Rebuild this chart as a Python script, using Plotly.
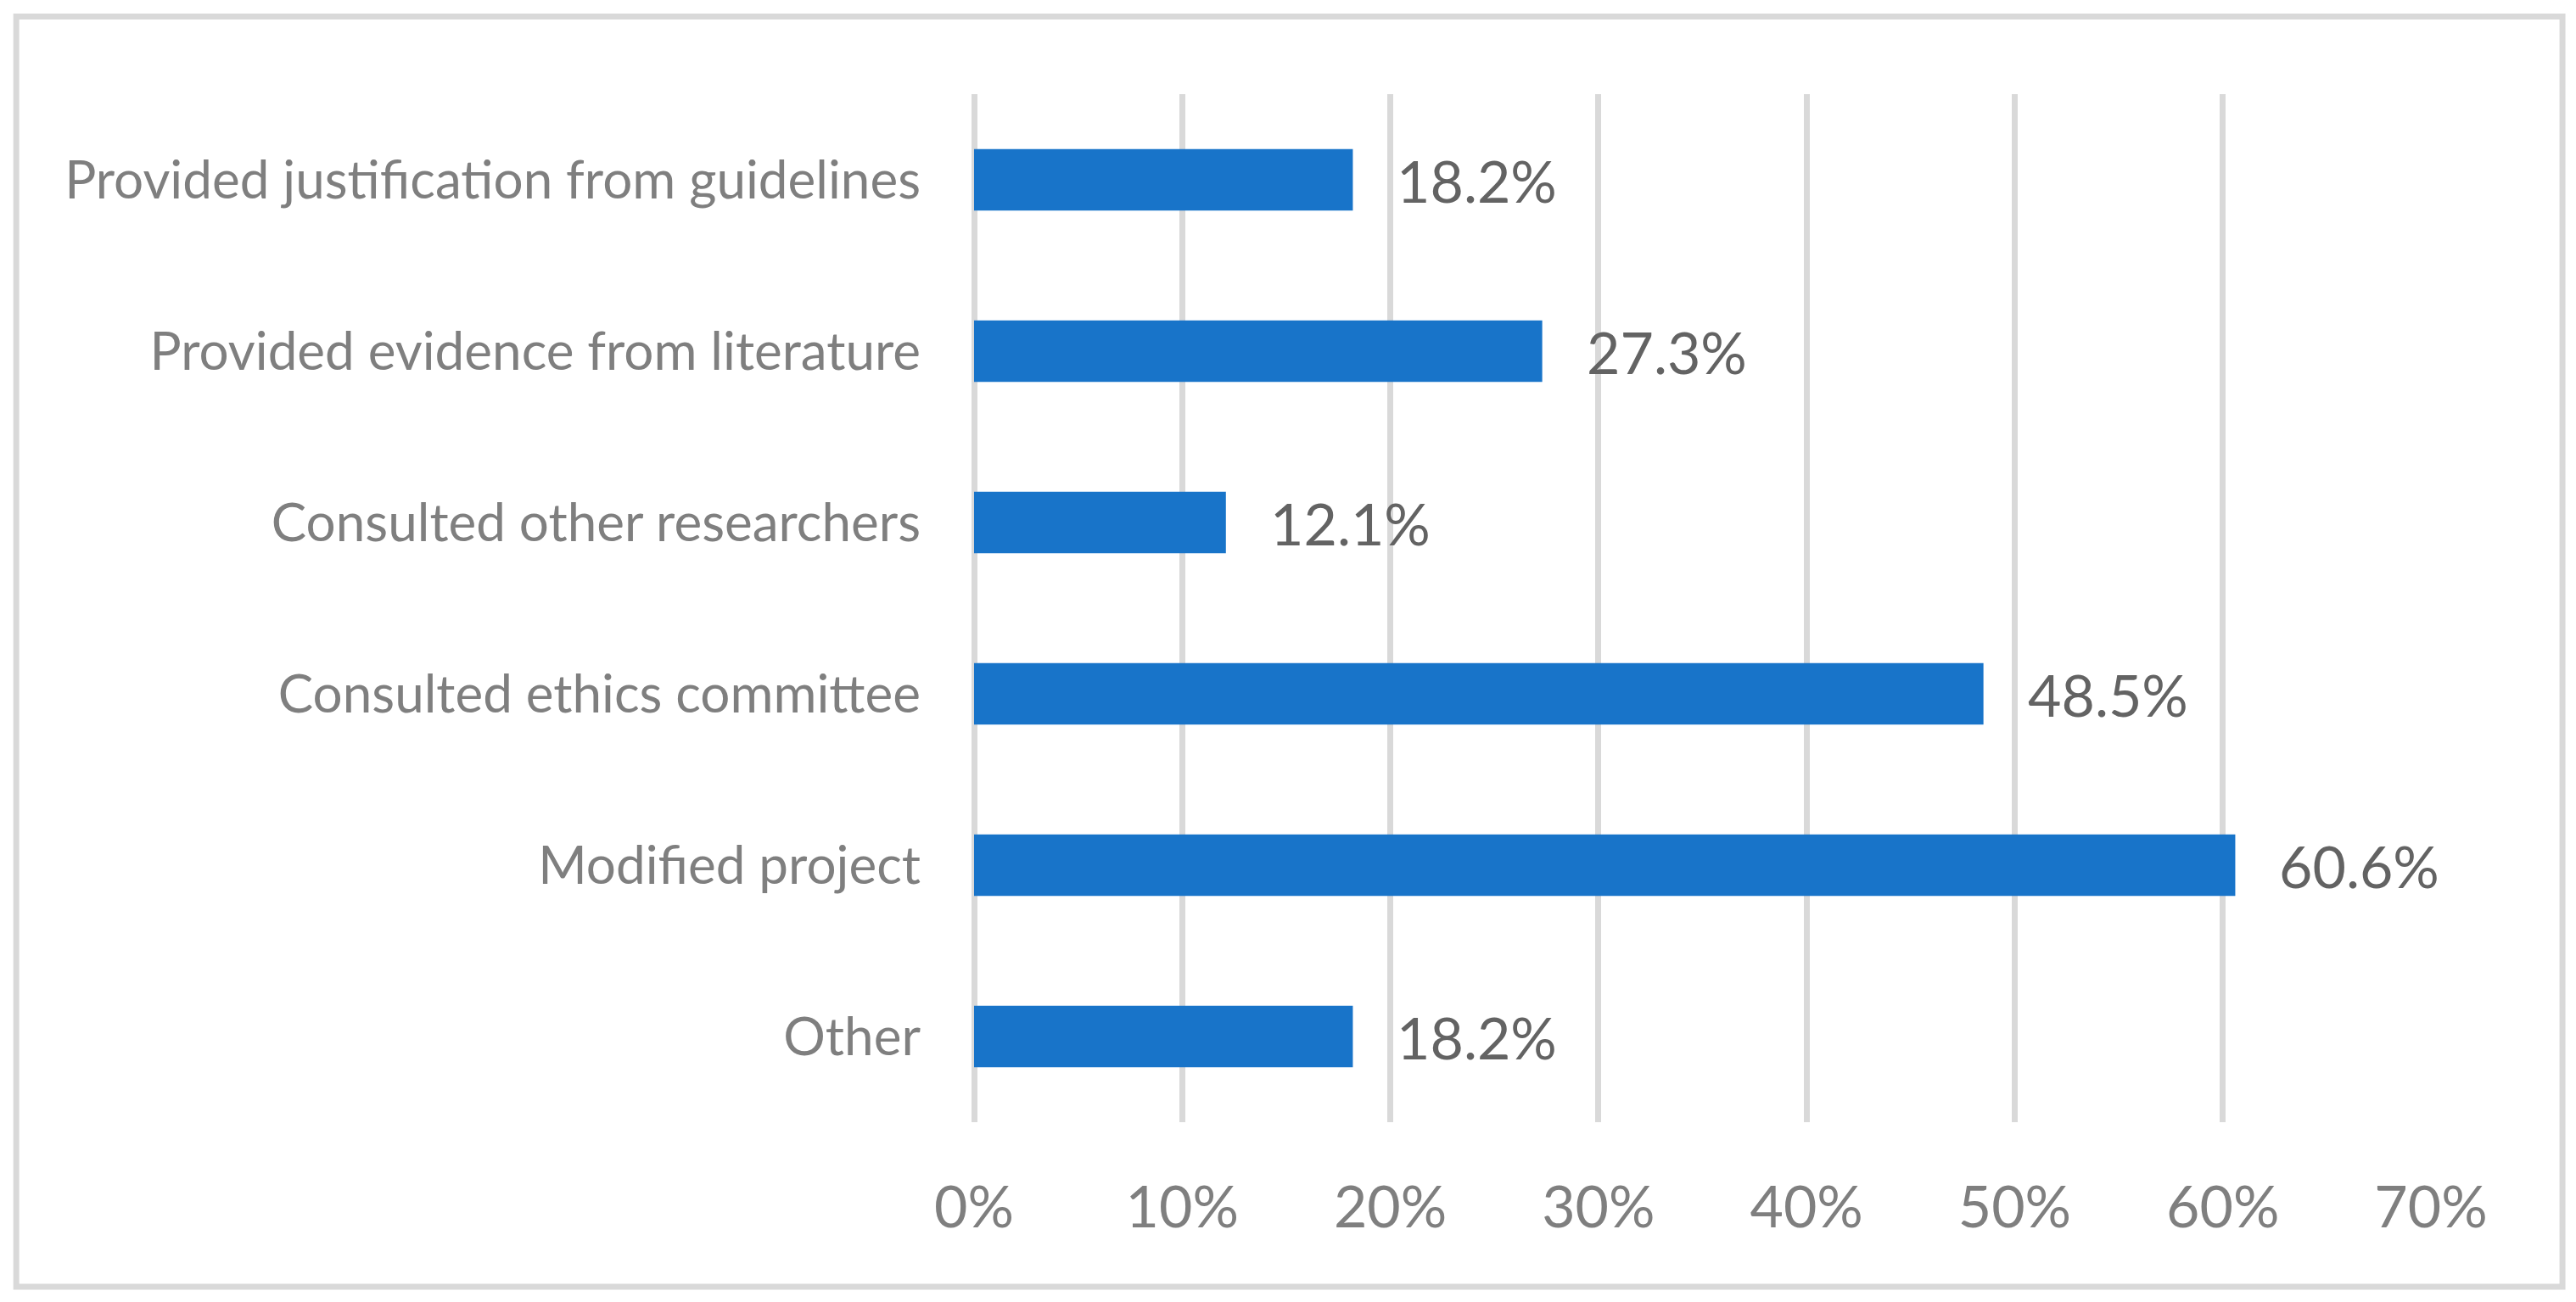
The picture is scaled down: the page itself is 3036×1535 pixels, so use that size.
import plotly.graph_objects as go

categories = [
    "Provided justification from guidelines",
    "Provided evidence from literature",
    "Consulted other researchers",
    "Consulted ethics committee",
    "Modified project",
    "Other",
]
values = [0.182, 0.273, 0.121, 0.485, 0.606, 0.182]
value_labels = ["18.2%", "27.3%", "12.1%", "48.5%", "60.6%", "18.2%"]
x_ticks = [0, 0.1, 0.2, 0.3, 0.4, 0.5, 0.6, 0.7]
x_tick_labels = ["0%", "10%", "20%", "30%", "40%", "50%", "60%", "70%"]

FONT = "Lato"
GRID = "#D9D9D9"

fig = go.Figure()
fig.add_trace(go.Bar(
    y=categories,
    x=values,
    orientation="h",
    marker=dict(color="#1874C9", line=dict(width=0)),
    hoverinfo="skip",
))

for cat, v, lab in zip(categories, values, value_labels):
    fig.add_annotation(
        x=v, y=cat, xref="x", yref="y",
        text=lab, showarrow=False,
        xanchor="left", yanchor="middle",
        xshift=50,
        font=dict(family=FONT, size=68, color="#636363"),
    )

fig.update_layout(
    width=3036, height=1535,
    margin=dict(l=1148, r=171, t=111, b=212, pad=0),
    paper_bgcolor="white",
    plot_bgcolor="white",
    bargap=0.64,
    showlegend=False,
    shapes=[dict(
        type="rect", xref="paper", yref="paper",
        x0=-1128.5 / 1716.5, x1=(3019.5 - 1148) / 1716.5,
        y0=-(1517 - 1323) / 1212, y1=1 + (111 - 19.5) / 1212,
        line=dict(color=GRID, width=7), layer="below",
    )],
)

fig.update_xaxes(
    range=[0, 0.7],
    tickvals=x_ticks,
    ticktext=x_tick_labels,
    showgrid=True, gridcolor=GRID, gridwidth=7,
    zeroline=True, zerolinecolor=GRID, zerolinewidth=7,
    showline=False, ticks="",
    ticklabelstandoff=55,
    tickfont=dict(family=FONT, size=68, color="#7F7F7F"),
    fixedrange=True,
)
fig.update_yaxes(
    autorange="reversed",
    showgrid=False, zeroline=False, showline=False, ticks="",
    ticklabelstandoff=62,
    tickfont=dict(family=FONT, size=62, color="#7F7F7F"),
    fixedrange=True,
)

fig.write_html(
    "out.html",
    config={"displayModeBar": False},
    post_script="document.body.style.margin='0';document.body.style.overflow='hidden';",
)
